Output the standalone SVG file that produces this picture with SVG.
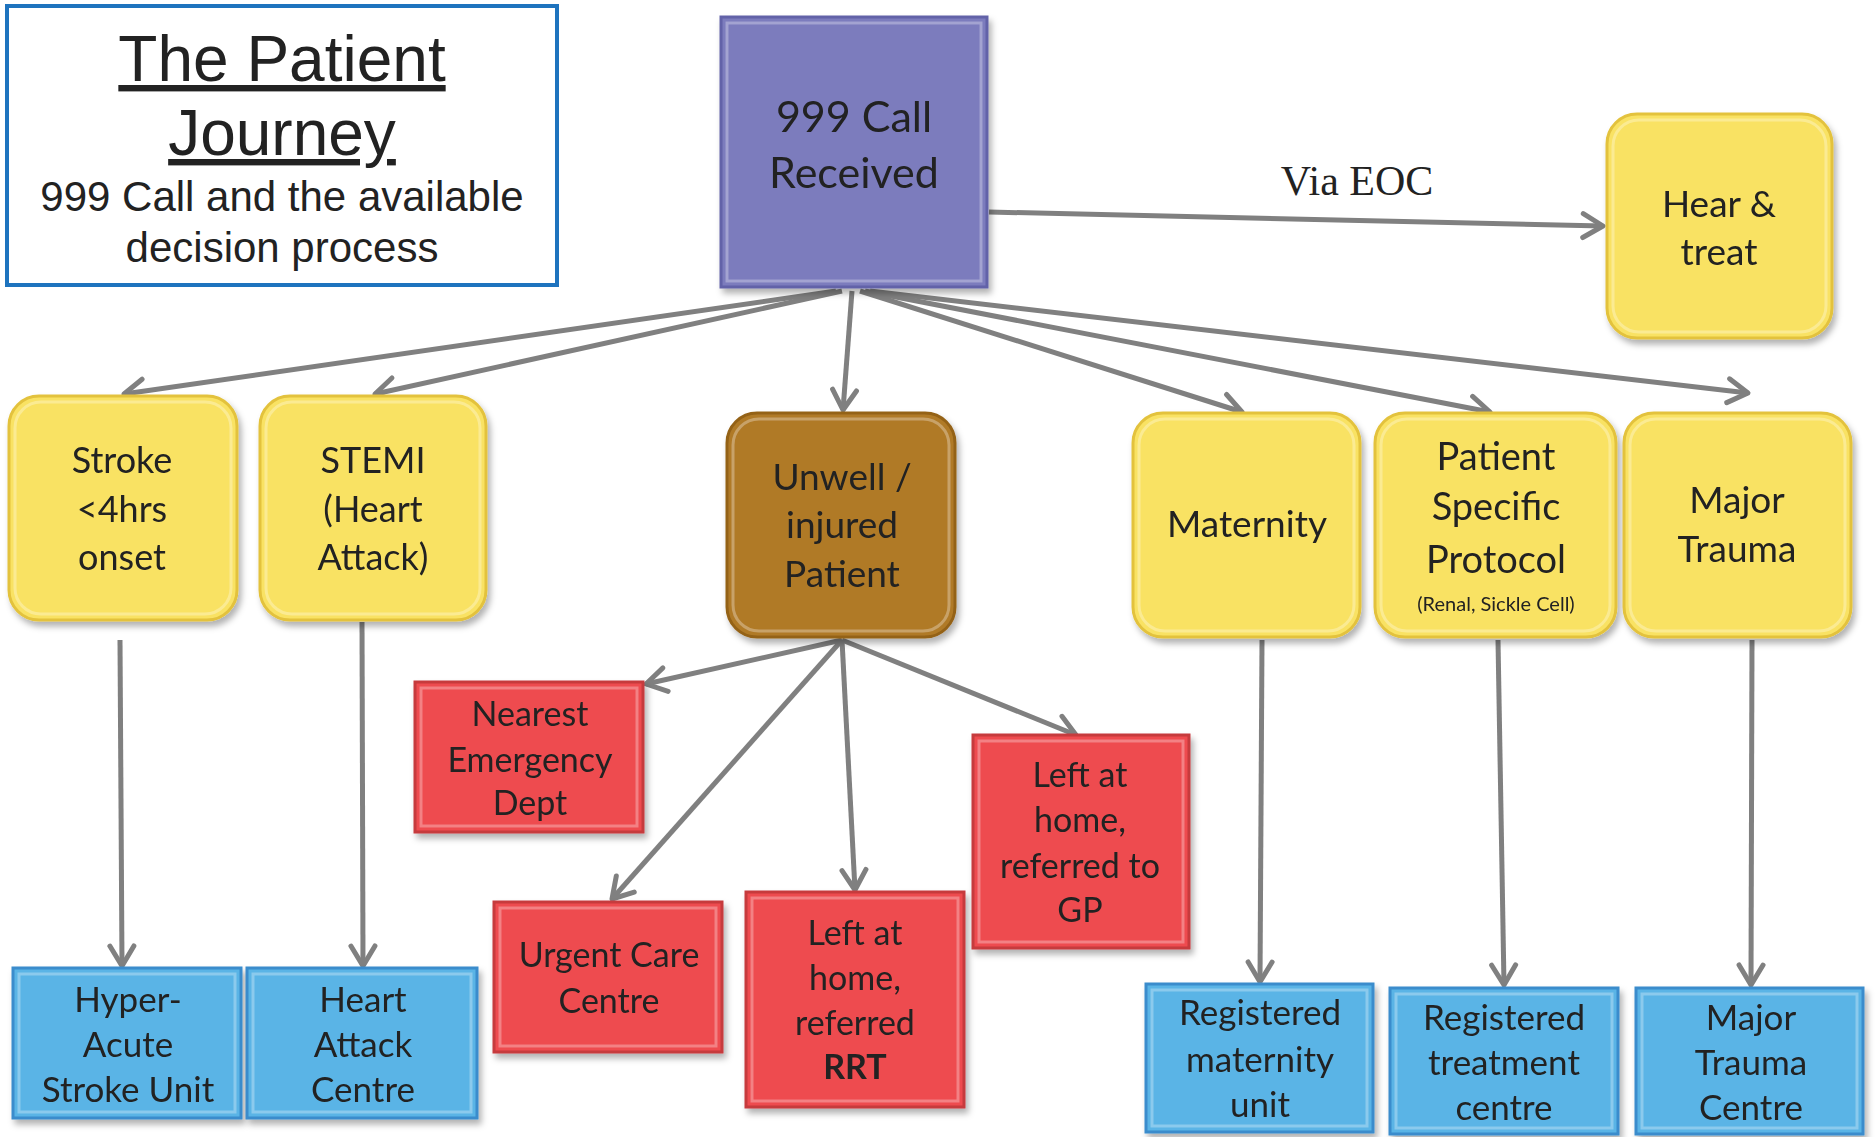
<svg xmlns="http://www.w3.org/2000/svg" width="1875" height="1137" viewBox="0 0 1875 1137">
<style>
.t{font-family:Lato,"Open Sans","Noto Sans",sans-serif;fill:#222;text-anchor:middle}
.title{font-family:"Liberation Sans",Arial,sans-serif;fill:#222;text-anchor:middle}
.conn{stroke:#808080;stroke-width:5;fill:none;marker-end:url(#ah)}
.purple{fill:#7b7bbd;stroke:#6262a8;stroke-width:3}
.yellow{fill:#f9e264;stroke:#e3c23c;stroke-width:3}
.brown{fill:#b07a28;stroke:#946218;stroke-width:3}
.red{fill:#ee4b4f;stroke:#c63a3d;stroke-width:3}
.blue{fill:#5ab4e6;stroke:#3a8ccc;stroke-width:3}
.bev{fill:none;stroke:#ffffff;stroke-opacity:0.3;stroke-width:3}
</style>
<defs>
<marker id="ah" markerUnits="userSpaceOnUse" markerWidth="30" markerHeight="30" viewBox="-24 -15 30 30" refX="0" refY="0" orient="auto">
<path d="M-20,-12 L0,0 L-20,12" fill="none" stroke="#808080" stroke-width="5" stroke-linecap="round" stroke-linejoin="round"/>
</marker>
<filter id="sh" x="-10%" y="-10%" width="125%" height="125%">
<feDropShadow dx="3" dy="5" stdDeviation="3" flood-color="#000" flood-opacity="0.3"/>
</filter>
</defs>
<rect width="1875" height="1137" fill="#ffffff"/>

<g id="title">
<rect x="7" y="6" width="550" height="279" fill="#fff" stroke="#1e73be" stroke-width="4"/>
<text class="title" x="282" y="81" font-size="64" text-decoration="underline">The Patient</text>
<text class="title" x="282" y="155" font-size="64" text-decoration="underline">Journey</text>
<text class="title" x="282" y="211" font-size="42">999 Call and the available</text>
<text class="title" x="282" y="262" font-size="42">decision process</text>
</g>

<g id="connectors">
<line class="conn" x1="989" y1="212" x2="1603" y2="226"/>
<text x="1357" y="195" font-family="'Liberation Serif','Times New Roman',serif" font-size="42" fill="#222" text-anchor="middle">Via EOC</text>
<line class="conn" x1="836" y1="291" x2="124" y2="394"/>
<line class="conn" x1="842" y1="291" x2="375" y2="394"/>
<line class="conn" x1="852" y1="291" x2="843" y2="410"/>
<line class="conn" x1="860" y1="291" x2="1242" y2="412"/>
<line class="conn" x1="865" y1="291" x2="1490" y2="412"/>
<line class="conn" x1="870" y1="291" x2="1748" y2="393"/>
<line class="conn" x1="120" y1="640" x2="122" y2="966"/>
<line class="conn" x1="362" y1="622" x2="363" y2="966"/>
<line class="conn" x1="842" y1="640" x2="646" y2="684"/>
<line class="conn" x1="842" y1="640" x2="612" y2="899"/>
<line class="conn" x1="842" y1="640" x2="855" y2="890"/>
<line class="conn" x1="842" y1="640" x2="1076" y2="735"/>
<line class="conn" x1="1262" y1="640" x2="1260" y2="982"/>
<line class="conn" x1="1498" y1="640" x2="1504" y2="985"/>
<line class="conn" x1="1752" y1="640" x2="1751" y2="985"/>
</g>

<g id="call999" filter="url(#sh)">
<rect class="purple" x="721" y="17" width="266" height="270"/>
<rect class="bev" x="727" y="23" width="254" height="258"/>
<text class="t" x="854" y="132" font-size="43">999 Call</text>
<text class="t" x="854" y="188" font-size="43">Received</text>
</g>

<g id="hear" filter="url(#sh)">
<rect class="yellow" x="1607" y="114" width="225" height="224" rx="30"/>
<rect class="bev" x="1613" y="120" width="213" height="212" rx="26"/>
<text class="t" x="1719" y="217" font-size="37">Hear &amp;</text>
<text class="t" x="1719" y="265" font-size="37">treat</text>
</g>

<g id="stroke" filter="url(#sh)">
<rect class="yellow" x="9" y="396" width="228" height="224" rx="30"/>
<rect class="bev" x="15" y="402" width="216" height="212" rx="26"/>
<text class="t" x="122" y="473" font-size="36">Stroke</text>
<text class="t" x="122" y="522" font-size="36">&lt;4hrs</text>
<text class="t" x="122" y="570" font-size="36">onset</text>
</g>

<g id="stemi" filter="url(#sh)">
<rect class="yellow" x="260" y="396" width="226" height="224" rx="30"/>
<rect class="bev" x="266" y="402" width="214" height="212" rx="26"/>
<text class="t" x="373" y="473" font-size="36">STEMI</text>
<text class="t" x="373" y="522" font-size="36">(Heart</text>
<text class="t" x="373" y="570" font-size="36">Attack)</text>
</g>

<g id="unwell" filter="url(#sh)">
<rect class="brown" x="727" y="413" width="228" height="224" rx="30"/>
<rect class="bev" x="733" y="419" width="216" height="212" rx="26"/>
<text class="t" x="842" y="490" font-size="37">Unwell /</text>
<text class="t" x="842" y="538" font-size="37">injured</text>
<text class="t" x="842" y="587" font-size="37">Patient</text>
</g>

<g id="maternity" filter="url(#sh)">
<rect class="yellow" x="1133" y="413" width="227" height="224" rx="30"/>
<rect class="bev" x="1139" y="419" width="215" height="212" rx="26"/>
<text class="t" x="1247" y="537" font-size="37">Maternity</text>
</g>

<g id="psp" filter="url(#sh)">
<rect class="yellow" x="1375" y="413" width="241" height="224" rx="30"/>
<rect class="bev" x="1381" y="419" width="229" height="212" rx="26"/>
<text class="t" x="1496" y="470" font-size="38">Patient</text>
<text class="t" x="1496" y="520" font-size="38">Specific</text>
<text class="t" x="1496" y="573" font-size="38">Protocol</text>
<text class="t" x="1496" y="611" font-size="20">(Renal, Sickle Cell)</text>
</g>

<g id="majortrauma" filter="url(#sh)">
<rect class="yellow" x="1624" y="413" width="227" height="224" rx="30"/>
<rect class="bev" x="1630" y="419" width="215" height="212" rx="26"/>
<text class="t" x="1737" y="513" font-size="37">Major</text>
<text class="t" x="1737" y="562" font-size="37">Trauma</text>
</g>

<g id="nearest" filter="url(#sh)">
<rect class="red" x="415" y="682" width="228" height="150"/>
<rect class="bev" x="421" y="688" width="216" height="138"/>
<text class="t" x="530" y="726" font-size="34">Nearest</text>
<text class="t" x="530" y="772" font-size="34">Emergency</text>
<text class="t" x="530" y="815" font-size="34">Dept</text>
</g>

<g id="urgent" filter="url(#sh)">
<rect class="red" x="494" y="902" width="228" height="150"/>
<rect class="bev" x="500" y="908" width="216" height="138"/>
<text class="t" x="609" y="967" font-size="34">Urgent Care</text>
<text class="t" x="609" y="1013" font-size="34">Centre</text>
</g>

<g id="rrt" filter="url(#sh)">
<rect class="red" x="746" y="892" width="218" height="215"/>
<rect class="bev" x="752" y="898" width="206" height="203"/>
<text class="t" x="855" y="945" font-size="34">Left at</text>
<text class="t" x="855" y="990" font-size="34">home,</text>
<text class="t" x="855" y="1035" font-size="34">referred</text>
<text class="t" x="855" y="1079" font-size="34" font-weight="bold">RRT</text>
</g>

<g id="gp" filter="url(#sh)">
<rect class="red" x="973" y="735" width="216" height="213"/>
<rect class="bev" x="979" y="741" width="204" height="201"/>
<text class="t" x="1080" y="787" font-size="34">Left at</text>
<text class="t" x="1080" y="832" font-size="34">home,</text>
<text class="t" x="1080" y="878" font-size="34">referred to</text>
<text class="t" x="1080" y="922" font-size="34">GP</text>
</g>

<g id="hasu" filter="url(#sh)">
<rect class="blue" x="13" y="968" width="228" height="150"/>
<rect class="bev" x="19" y="974" width="216" height="138"/>
<text class="t" x="128" y="1012" font-size="35">Hyper-</text>
<text class="t" x="128" y="1057" font-size="35">Acute</text>
<text class="t" x="128" y="1102" font-size="35">Stroke Unit</text>
</g>

<g id="hac" filter="url(#sh)">
<rect class="blue" x="247" y="968" width="230" height="150"/>
<rect class="bev" x="253" y="974" width="218" height="138"/>
<text class="t" x="363" y="1012" font-size="35">Heart</text>
<text class="t" x="363" y="1057" font-size="35">Attack</text>
<text class="t" x="363" y="1102" font-size="35">Centre</text>
</g>

<g id="regmat" filter="url(#sh)">
<rect class="blue" x="1146" y="984" width="227" height="148"/>
<rect class="bev" x="1152" y="990" width="215" height="136"/>
<text class="t" x="1260" y="1025" font-size="35">Registered</text>
<text class="t" x="1260" y="1072" font-size="35">maternity</text>
<text class="t" x="1260" y="1117" font-size="35">unit</text>
</g>

<g id="regtreat" filter="url(#sh)">
<rect class="blue" x="1390" y="988" width="228" height="146"/>
<rect class="bev" x="1396" y="994" width="216" height="134"/>
<text class="t" x="1504" y="1030" font-size="35">Registered</text>
<text class="t" x="1504" y="1075" font-size="35">treatment</text>
<text class="t" x="1504" y="1120" font-size="35">centre</text>
</g>

<g id="mtc" filter="url(#sh)">
<rect class="blue" x="1636" y="988" width="227" height="146"/>
<rect class="bev" x="1642" y="994" width="215" height="134"/>
<text class="t" x="1751" y="1030" font-size="35">Major</text>
<text class="t" x="1751" y="1075" font-size="35">Trauma</text>
<text class="t" x="1751" y="1120" font-size="35">Centre</text>
</g>
</svg>
